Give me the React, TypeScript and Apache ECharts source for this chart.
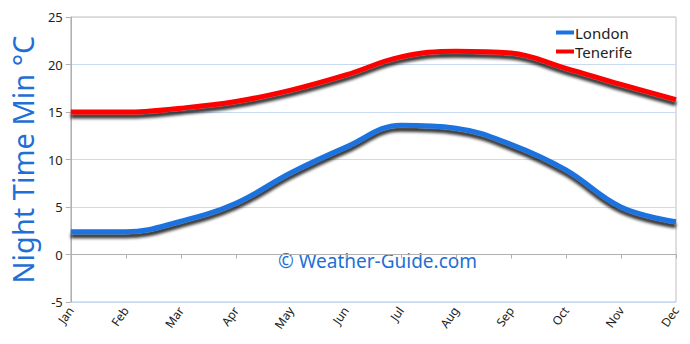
import React, { useEffect, useRef } from "react";
import * as echarts from "echarts";

const months = ["Jan", "Feb", "Mar", "Apr", "May", "Jun", "Jul", "Aug", "Sep", "Oct", "Nov", "Dec"];
const london = [2.4, 2.4, 3.5, 5.4, 8.6, 11.3, 13.6, 13.3, 11.6, 8.9, 5.0, 3.45];
const tenerife = [15.0, 15.0, 15.4, 16.1, 17.3, 18.9, 20.8, 21.4, 21.2, 19.6, 17.9, 16.3];
const yTitle = "Night Time Min °C";
const watermark = "© Weather-Guide.com";

const FONT = "'Noto Sans', sans-serif";

export default function App() {
  const ref = useRef<HTMLDivElement>(null);
  useEffect(() => {
    if (!ref.current) return;
    const chart = echarts.init(ref.current, undefined, { renderer: "svg" });
    const shadow = {
      shadowColor: "rgba(0,0,0,0.8)",
      shadowBlur: 3,
      shadowOffsetX: 0,
      shadowOffsetY: 4,
    };
    chart.setOption({
      animation: false,
      backgroundColor: "#ffffff",
      textStyle: { fontFamily: FONT },
      grid: {
        left: 62,
        right: 14,
        top: 17,
        bottom: 42,
        show: true,
        borderColor: "#c0c0c0",
        borderWidth: 1,
      },
      legend: {
        orient: "vertical",
        left: 551,
        top: 20,
        itemWidth: 18,
        itemHeight: 4,
        itemGap: 4,
        icon: "rect",
        textStyle: { fontFamily: FONT, fontSize: 15, lineHeight: 15, color: "#222", padding: [0, 0, 0, -4] },
        data: ["London", "Tenerife"],
      },
      xAxis: {
        type: "category",
        data: months,
        boundaryGap: false,
        axisLine: { lineStyle: { color: "#b0b0b0" } },
        axisTick: { show: true, alignWithLabel: true, length: 4, lineStyle: { color: "#b0b0b0" } },
        axisLabel: { rotate: 55, fontSize: 12, color: "#222", margin: 6, fontFamily: FONT },
        splitLine: { show: false },
      },
      yAxis: {
        type: "value",
        min: -5,
        max: 25,
        interval: 5,
        name: yTitle,
        nameLocation: "middle",
        nameGap: 31,
        nameTextStyle: { color: "#1e6fd6", fontSize: 29, fontFamily: FONT },
        axisLine: { show: true, lineStyle: { color: "#b0b0b0" } },
        axisTick: { show: true, length: 5, lineStyle: { color: "#b0b0b0" } },
        axisLabel: { fontSize: 13, color: "#222", margin: 8, fontFamily: FONT },
        splitLine: { show: true, lineStyle: { color: "#c9d9ef", width: 1 } },
      },
      graphic: [
        {
          type: "text",
          left: 278,
          top: 251,
          style: {
            text: watermark,
            fill: "#1e6fd6",
            font: `19px ${FONT}`,
          },
        },
      ],
      series: [
        {
          name: "London",
          type: "line",
          data: london,
          smooth: 0.4,
          symbol: "none",
          color: "#1a73e0",
          lineStyle: { width: 5, color: "#1a73e0", ...shadow },
        },
        {
          name: "Tenerife",
          type: "line",
          data: tenerife,
          smooth: 0.4,
          symbol: "none",
          color: "#ff0000",
          lineStyle: { width: 5, color: "#ff0000", ...shadow },
        },
      ],
    });
    return () => chart.dispose();
  }, []);
  return (
    <div
      ref={ref}
      style={{ position: "absolute", left: 0, top: 0, width: 690, height: 344 }}
    />
  );
}
